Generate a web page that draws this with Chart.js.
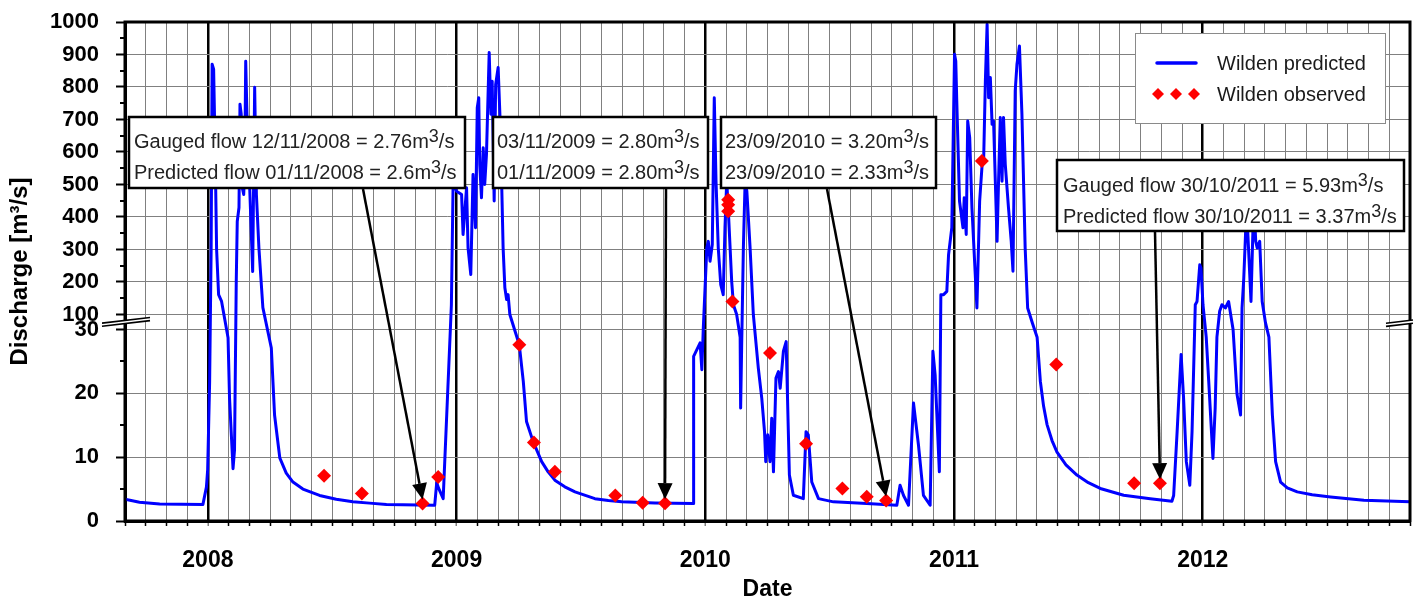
<!DOCTYPE html>
<html><head><meta charset="utf-8">
<script src="https://cdn.jsdelivr.net/npm/chart.js@4.4.1/dist/chart.umd.min.js"></script>
<style>html,body{margin:0;padding:0;background:#fff;}canvas{display:block;}</style>
</head><body>
<canvas id="c" width="1419" height="601"></canvas>
<script>
// ---------------- DATA ----------------
// Wilden predicted discharge (date as decimal year, flow in m3/s)
const predDates = [
 2007.667,2007.725,2007.806,2007.980,2007.994,2007.999,2008.007,2008.013,2008.017,2008.023,2008.029,2008.035,2008.043,2008.055,2008.081,2008.087,2008.101,2008.107,2008.114,2008.118,2008.125,2008.129,2008.134,2008.138,2008.144,2008.148,2008.152,2008.157,2008.164,2008.168,2008.180,2008.188,2008.195,2008.205,2008.221,2008.255,2008.268,2008.289,2008.315,2008.342,2008.382,2008.449,2008.516,2008.583,2008.650,2008.718,2008.912,2008.920,2008.928,2008.946,2008.966,2008.979,2008.986,
 2009.000,2009.020,2009.026,2009.040,2009.046,2009.057,2009.066,2009.076,2009.083,2009.089,2009.093,2009.100,2009.107,2009.113,2009.120,2009.131,2009.138,2009.143,2009.151,2009.157,2009.167,2009.174,2009.181,2009.187,2009.194,2009.201,2009.207,2009.214,2009.252,2009.268,2009.281,2009.308,2009.342,2009.368,2009.395,2009.435,2009.476,2009.556,2009.610,2009.664,2009.798,2009.952,2009.953,2009.979,2009.986,2009.992,2010.006,
 2010.012,2010.019,2010.028,2010.036,2010.043,2010.052,2010.062,2010.072,2010.079,2010.086,2010.092,2010.106,2010.113,2010.126,2010.140,2010.142,2010.146,2010.153,2010.160,2010.167,2010.180,2010.193,2010.213,2010.227,2010.238,2010.243,2010.251,2010.260,2010.267,2010.274,2010.284,2010.294,2010.301,2010.314,2010.325,2010.338,2010.354,2010.394,2010.405,2010.414,2010.428,2010.455,2010.515,2010.649,2010.770,2010.783,2010.797,2010.817,2010.837,2010.857,2010.877,2010.904,2010.915,2010.924,2010.941,2010.947,2010.958,2010.971,2010.978,2010.991,
 2011.002,2011.007,2011.011,2011.022,2011.036,2011.041,2011.049,2011.055,2011.063,2011.072,2011.082,2011.092,2011.103,2011.113,2011.119,2011.126,2011.133,2011.139,2011.146,2011.153,2011.159,2011.166,2011.173,2011.179,2011.186,2011.193,2011.199,2011.206,2011.219,2011.230,2011.237,2011.246,2011.253,2011.263,2011.273,2011.286,2011.296,2011.315,2011.334,2011.347,2011.360,2011.374,2011.394,2011.414,2011.450,2011.494,2011.540,2011.588,2011.682,2011.789,2011.876,2011.883,2011.897,2011.913,2011.923,2011.934,2011.948,2011.957,2011.970,2011.977,2011.988,2011.993,
 2012.001,2012.014,2012.024,2012.041,2012.050,2012.057,2012.068,2012.077,2012.091,2012.104,2012.122,2012.138,2012.152,2012.158,2012.165,2012.172,2012.178,2012.184,2012.194,2012.202,2012.207,2012.213,2012.219,2012.229,2012.239,2012.252,2012.266,2012.280,2012.293,2012.313,2012.340,2012.380,2012.440,2012.514,2012.648,2012.833
];
const predFlow = [
 3.4,2.95,2.67,2.6,5.3,8.0,21.9,300,870,855,608,300,161,140,28.7,19.2,8.2,11.1,202,386,429,747,716,491,469,552,879,716,546,491,232,799,469,306,121,27.1,16.6,9.9,7.5,6.1,5.0,4.0,3.4,3.0,2.8,2.6,2.47,6.0,5.1,3.5,21.9,130,509,
 479,469,346,490,305,223,531,367,736,767,562,459,613,500,592,906,716,818,449,808,860,716,510,305,182,146,161,100,27.6,21.9,15.6,12.4,9.3,7.7,6.4,5.35,4.56,3.5,3.2,3.0,2.83,2.74,25.8,27.9,23.7,40,305,
 325,264,315,767,510,305,192,161,367,510,428,202,130,100,28.8,17.7,27.1,305,510,479,305,100,24.0,19.2,14.0,9.3,13.5,9.3,16.1,7.7,22.4,23.4,20.8,26.6,28.1,7.2,4.04,3.5,14.0,13.5,6.1,3.5,3.0,2.74,2.47,5.6,4.0,2.47,18.5,11.9,4.0,2.47,26.6,22.9,7.7,161,161,171,284,367,
 901,880,757,449,367,459,346,695,644,428,274,120,449,562,572,818,993,767,829,685,695,510,325,510,706,510,706,562,428,325,233,788,870,926,716,305,120,60,28.8,21.9,18.0,15.1,12.6,10.8,8.8,7.2,6.0,5.1,4.04,3.5,3.1,4.0,14.0,26.1,19.2,9.3,5.6,14.0,130,140,253,243,
 130,28.8,21.9,9.8,17.7,28.8,110,130,120,140,30,19.8,16.6,120,212,346,400,305,140,367,430,325,305,325,140,63,28.8,16.6,9.3,6.1,5.2,4.56,4.1,3.77,3.25,3.0
];
// Wilden observed (gauged) discharge
const obsDates = [2008.467,2008.619,2008.863,2008.926,2009.252,2009.311,2009.395,2009.638,2009.748,2009.838,2010.092,2010.092,2010.092,2010.109,2010.260,2010.405,2010.551,2010.649,2010.727,2011.112,2011.411,2011.724,2011.828];
const obsFlow  = [7.1,4.3,2.76,6.9,27.6,12.3,7.7,4.0,2.85,2.80,453,438,418,140,26.3,12.1,5.1,3.8,3.20,572,24.5,5.9,5.93];

// axis ticks
const yTickValues  = [0,10,20,30,100,200,300,400,500,600,700,800,900,1000];
const yMinorValues = [5,15,25,150,250,350,450,550,650,750,850,950];
const yearLabels   = [2008,2009,2010,2011,2012];
const firstMonth = -4, lastMonth = 58;   // months relative to Jan 2008
const BREAK_LOW = 30, BREAK_HIGH = 100, Y_MAX = 1000;

// annotation texts and their gauged targets
const noteTexts = [
  ['Gauged flow 12/11/2008 = 2.76m^3/s','Predicted flow 01/11/2008 = 2.6m^3/s'],
  ['03/11/2009 = 2.80m^3/s','01/11/2009 = 2.80m^3/s'],
  ['23/09/2010 = 3.20m^3/s','23/09/2010 = 2.33m^3/s'],
  ['Gauged flow 30/10/2011 = 5.93m^3/s','Predicted flow 30/10/2011 = 3.37m^3/s']
];
const noteTargetDates = [2008.863,2009.838,2010.727,2011.828];
const noteTargetFlows = [2.76,2.80,3.20,5.93];

// ---------------- LAYOUT / STYLE ----------------
const FONT = '"Liberation Sans", Arial, Helvetica, sans-serif';
const FR_LOW = 191.2/498.2, FR_GAP = 15/498.2, FR_HIGH = 1 - FR_LOW - FR_GAP;
const noteLayout = [
  {box:[129,117,465,188], tx:134, base:[148,179], ax:363},
  {box:[493,117,708,188], tx:497, base:[148,179], ax:666},
  {box:[721,117,936,188], tx:725, base:[148,179], ax:827},
  {box:[1057,160,1404,231], tx:1063, base:[192,223], ax:1155}
];
const legendLayout = {box:[1135,33,1385,123], lineX:[1157,1196], lineY:63, diaX:[1158,1176,1194], diaY:94, tx:1217, base:[70,101]};

function flowToFrac(v){
  if (v <= BREAK_LOW) return v / BREAK_LOW * FR_LOW;
  if (v <= BREAK_HIGH) return FR_LOW + (v - BREAK_LOW) / (BREAK_HIGH - BREAK_LOW) * FR_GAP;
  return FR_LOW + FR_GAP + (v - BREAK_HIGH) / (Y_MAX - BREAK_HIGH) * FR_HIGH;
}
function fracToFlow(f){
  if (f <= FR_LOW) return f / FR_LOW * BREAK_LOW;
  if (f <= FR_LOW + FR_GAP) return BREAK_LOW + (f - FR_LOW) / FR_GAP * (BREAK_HIGH - BREAK_LOW);
  return BREAK_HIGH + (f - FR_LOW - FR_GAP) / FR_HIGH * (Y_MAX - BREAK_HIGH);
}

const LinearScale = Chart.LinearScale || Chart.registry.getScale('linear');
class BrokenScale extends LinearScale {
  buildTicks(){ return yTickValues.map(v => ({value: v})); }
  getPixelForValue(value){ return this.bottom - flowToFrac(value) * (this.bottom - this.top); }
  getValueForPixel(pixel){ return fracToFlow((this.bottom - pixel) / (this.bottom - this.top)); }
}
BrokenScale.id = 'brokenY';
Chart.register(BrokenScale);

const monthTicks = [];
for (let m = firstMonth; m <= lastMonth; m++) monthTicks.push(2008 + m / 12);
function isYear(v){ return yearLabels.some(y => Math.abs(v - y) < 1e-6); }

function drawRich(ctx, text, x, base, size, color){
  ctx.save();
  ctx.fillStyle = color; ctx.textBaseline = 'alphabetic'; ctx.textAlign = 'left';
  const parts = text.split('^3'); let cx = x;
  parts.forEach((p, i) => {
    ctx.font = size + 'px ' + FONT;
    ctx.fillText(p, cx, base); cx += ctx.measureText(p).width;
    if (i < parts.length - 1) {
      ctx.font = Math.round(size * 0.9) + 'px ' + FONT;
      ctx.fillText('3', cx, base - 6); cx += ctx.measureText('3').width;
    }
  });
  ctx.restore();
}
function arrow(ctx, x1, y1, x2, y2){
  const a = Math.atan2(y2 - y1, x2 - x1), L = 16, W = 7.5;
  const bx = x2 - L * Math.cos(a), by = y2 - L * Math.sin(a);
  ctx.beginPath(); ctx.moveTo(x1, y1); ctx.lineTo(bx, by); ctx.stroke();
  ctx.beginPath(); ctx.moveTo(x2, y2);
  ctx.lineTo(bx + W * Math.sin(a), by - W * Math.cos(a));
  ctx.lineTo(bx - W * Math.sin(a), by + W * Math.cos(a));
  ctx.closePath(); ctx.fill();
}
function diamond(ctx, x, y, r){
  ctx.beginPath(); ctx.moveTo(x, y - r); ctx.lineTo(x + r, y); ctx.lineTo(x, y + r); ctx.lineTo(x - r, y); ctx.closePath(); ctx.fill();
}

const decor = {
  id: 'decor',
  beforeDraw(chart){
    const ctx = chart.ctx; ctx.save(); ctx.fillStyle = '#fff'; ctx.fillRect(0, 0, chart.width, chart.height); ctx.restore();
  },
  afterDraw(chart){
    const ctx = chart.ctx, a = chart.chartArea, xs = chart.scales.x, ys = chart.scales.y;
    ctx.save();
    // minor y ticks
    ctx.strokeStyle = '#000'; ctx.lineWidth = 2;
    yMinorValues.forEach(v => {
      const py = Math.round(ys.getPixelForValue(v));
      ctx.beginPath(); ctx.moveTo(a.left - 5, py); ctx.lineTo(a.left, py); ctx.stroke();
    });
    // frame
    ctx.lineWidth = 3; ctx.strokeRect(a.left, a.top, a.right - a.left, a.bottom - a.top);
    // axis break marks
    const mid = (ys.getPixelForValue(BREAK_LOW) + ys.getPixelForValue(BREAK_HIGH)) / 2;
    const brk = (x1, x2, xc) => {
      const s = -0.118, f = x => mid + (x - xc) * s;
      ctx.fillStyle = '#fff';
      ctx.beginPath(); ctx.moveTo(x1, f(x1) - 1.5); ctx.lineTo(x2, f(x2) - 1.5); ctx.lineTo(x2, f(x2) + 1.5); ctx.lineTo(x1, f(x1) + 1.5); ctx.closePath(); ctx.fill();
      ctx.strokeStyle = '#000'; ctx.lineWidth = 1.6;
      [-1.6, 1.6].forEach(o => { ctx.beginPath(); ctx.moveTo(x1, f(x1) + o); ctx.lineTo(x2, f(x2) + o); ctx.stroke(); });
    };
    brk(a.left - 23, a.left + 25, a.left);
    brk(a.right - 24, a.right + 3, a.right);
    // annotation boxes with arrows
    noteLayout.forEach((n, i) => {
      const [x1, y1, x2, y2] = n.box;
      ctx.fillStyle = '#fff'; ctx.fillRect(x1, y1, x2 - x1, y2 - y1);
      ctx.strokeStyle = '#000'; ctx.lineWidth = 2.5; ctx.strokeRect(x1, y1, x2 - x1, y2 - y1);
      noteTexts[i].forEach((t, j) => drawRich(ctx, t, n.tx, n.base[j], 20, '#222'));
      const tx = xs.getPixelForValue(noteTargetDates[i]);
      const ty = ys.getPixelForValue(noteTargetFlows[i]) - 4;
      ctx.strokeStyle = '#000'; ctx.fillStyle = '#000'; ctx.lineWidth = 2.5;
      arrow(ctx, n.ax, y2 + 1, tx, ty);
    });
    // legend
    const L = legendLayout, [lx1, ly1, lx2, ly2] = L.box;
    ctx.fillStyle = '#fff'; ctx.fillRect(lx1, ly1, lx2 - lx1, ly2 - ly1);
    ctx.strokeStyle = '#8a8a8a'; ctx.lineWidth = 1; ctx.strokeRect(lx1 + 0.5, ly1 + 0.5, lx2 - lx1, ly2 - ly1);
    ctx.strokeStyle = '#0000ff'; ctx.lineWidth = 3.5; ctx.lineCap = 'round';
    ctx.beginPath(); ctx.moveTo(L.lineX[0], L.lineY); ctx.lineTo(L.lineX[1], L.lineY); ctx.stroke();
    ctx.fillStyle = '#ff0000'; L.diaX.forEach(x => diamond(ctx, x, L.diaY, 6));
    ctx.fillStyle = '#1a1a1a'; ctx.font = '20px ' + FONT; ctx.textBaseline = 'alphabetic';
    ctx.fillText('Wilden predicted', L.tx, L.base[0]);
    ctx.fillText('Wilden observed', L.tx, L.base[1]);
    ctx.restore();
  }
};

new Chart(document.getElementById('c'), {
  type: 'line',
  data: {
    datasets: [
      { label: 'Wilden observed', data: obsDates.map((d, i) => ({x: d, y: obsFlow[i]})), showLine: false,
        pointStyle: 'rectRot', pointRadius: 7, pointBackgroundColor: '#ff0000', pointBorderColor: '#ff0000', pointBorderWidth: 0, borderWidth: 0 },
      { label: 'Wilden predicted', data: predDates.map((d, i) => ({x: d, y: predFlow[i]})),
        borderColor: '#0000ff', borderWidth: 3, pointRadius: 0, tension: 0, fill: false, borderJoinStyle: 'round' }
    ]
  },
  options: {
    responsive: false, animation: false, devicePixelRatio: 1,
    layout: { padding: { top: 22, right: 9, bottom: 0, left: 0 } },
    plugins: { legend: { display: false }, tooltip: { enabled: false } },
    scales: {
      x: {
        type: 'linear', min: 2008 + firstMonth / 12, max: 2008 + lastMonth / 12,
        afterBuildTicks: s => { s.ticks = monthTicks.map(v => ({value: v})); },
        afterFit: s => { s.height = 80; s.paddingLeft = 0; s.paddingRight = 0; },
        ticks: { autoSkip: false, maxRotation: 0, minRotation: 0, padding: 21, color: '#000',
          font: { family: FONT, size: 23, weight: 'bold' },
          callback: v => isYear(v) ? String(Math.round(v)) : '' },
        grid: {
          color: c => (c.tick && isYear(c.tick.value)) ? '#000' : '#808080',
          lineWidth: c => (c.tick && isYear(c.tick.value)) ? 2.5 : 1,
          tickLength: 5,
          tickColor: c => (c.tick && isYear(c.tick.value)) ? '#808080' : '#000',
          tickWidth: 1.5
        },
        border: { display: true, color: '#000', width: 3 },
        title: { display: true, text: 'Date', color: '#000', font: { family: FONT, size: 23, weight: 'bold' }, padding: { top: 0, bottom: -2 } }
      },
      y: {
        type: 'brokenY', min: 0, max: Y_MAX,
        afterFit: s => { s.width = 125; s.paddingTop = 0; s.paddingBottom = 0; },
        ticks: { autoSkip: false, padding: 17, color: '#000', font: { family: FONT, size: 22, weight: 'bold' }, callback: v => String(v) },
        grid: { color: '#808080', lineWidth: 1, tickLength: 9, tickColor: '#000', tickWidth: 2 },
        border: { display: true, color: '#000', width: 3 },
        title: { display: true, text: 'Discharge [m³/s]', color: '#000', font: { family: FONT, size: 24, weight: 'bold' }, padding: { top: 6, bottom: 0 } }
      }
    }
  },
  plugins: [decor]
});
</script>
</body></html>
